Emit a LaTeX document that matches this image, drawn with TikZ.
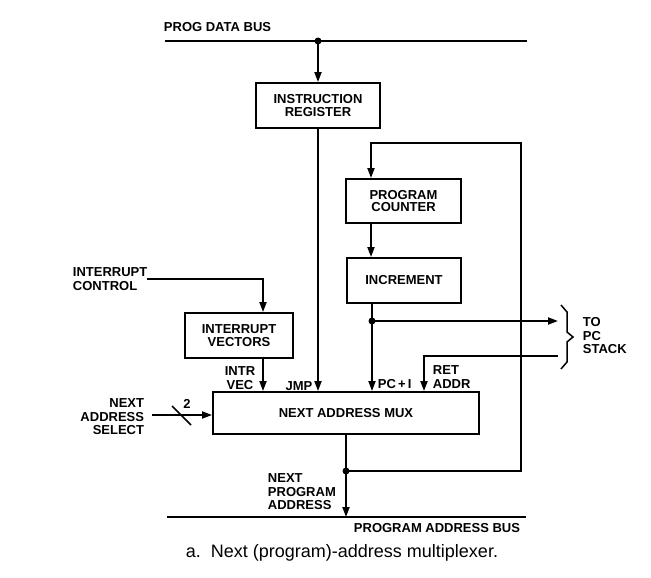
\documentclass[tikz,border=0pt]{standalone}
\usepackage{fontspec}
\setmainfont{Liberation Sans}
\usetikzlibrary{arrows.meta}

\begin{document}
\begin{tikzpicture}[x=1pt,y=-1pt,
  line width=1.9pt,
  arr/.style={-{Triangle[length=10pt,width=7pt]}},
  box/.style={draw, line width=1.9pt, inner sep=0pt, align=center,
    font=\bfseries\fontsize{13}{12.5}\selectfont},
  lbl/.style={inner sep=0pt, font=\bfseries\fontsize{13}{13.5}\selectfont},
  dot/.style={circle, fill, inner sep=0pt, minimum size=7pt}]

\useasboundingbox (0,0) rectangle (651,578);

% functional blocks
\node[box, minimum width=124pt, minimum height=45pt] (ir)  at (318,105.5) {INSTRUCTION\\REGISTER};
\node[box, minimum width=115pt, minimum height=44pt] (pc)  at (403.5,201) {PROGRAM\\COUNTER};
\node[box, minimum width=114pt, minimum height=45pt] (inc) at (404,280.5) {INCREMENT};
\node[box, minimum width=108pt, minimum height=45pt] (iv)  at (239,335.5) {INTERRUPT\\VECTORS};
\node[box, minimum width=266pt, minimum height=42pt] (mux) at (346,413)   {NEXT ADDRESS MUX};

% routing points
\coordinate (dbL) at (165,41);
\coordinate (dbR) at (527,41);
\coordinate (dbJ) at (318,41);
\coordinate (loopTL) at (371,143);
\coordinate (loopTR) at (521,143);
\coordinate (incJ) at (372,321);
\coordinate (stackOut) at (558,321);
\coordinate (stackIn) at (558,356);
\coordinate (retC) at (424,356);
\coordinate (icL) at (147,279);
\coordinate (icC) at (263,279);
\coordinate (nasL) at (152,415);
\coordinate (outJ) at (346,471);
\coordinate (outR) at (521,471);
\coordinate (abL) at (167,517);
\coordinate (abR) at (526,517);
\coordinate (abJ) at (346,517);
\coordinate (slashA) at (172,406);
\coordinate (slashB) at (191,425);

% program data bus
\draw (dbL) -- (dbR);
\node[lbl, anchor=west] (dbus) at (163,27) {PROG DATA BUS};
\draw[arr] (dbJ) -- (ir.north);

% jump address
\draw[arr] (ir.south) -- (ir.south |- mux.north);
\node[lbl] (jmp) at (299,386) {JMP};

% program counter loop
\draw[arr] (outJ) -- (outR) -- (loopTR) -- (loopTL) -- (loopTL |- pc.north);
\draw[arr] (loopTL |- pc.south) -- (loopTL |- inc.north);
\draw (incJ |- inc.south) -- (incJ);
\draw[arr] (incJ) -- (incJ |- mux.north);
\node[lbl, anchor=west] (pcinc) at (377,384) {PC\,+\,I};

% stack interface
\draw[arr] (incJ) -- (stackOut);
\draw[arr] (stackIn) -- (retC) -- (retC |- mux.north);
\node[lbl, anchor=west, align=left] (ret) at (432,377) {RET\\ADDR};
\draw[line width=1.5pt, line join=miter]
  (561,305) -- (567,312) -- (567,332) -- (573,337) -- (567,342)
  -- (567,362) -- (561,369);
\node[lbl, anchor=west, align=left] (stack) at (582,336) {TO\\PC\\STACK};

% interrupts
\node[lbl, anchor=west, align=left] (ictl) at (72,279) {INTERRUPT\\CONTROL};
\draw[arr] (icL) -- (icC) -- (icC |- iv.north);
\draw[arr] (icC |- iv.south) -- (icC |- mux.north);
\node[lbl, align=center] (ivec) at (240,378) {INTR\\VEC};

% select input
\node[lbl, anchor=east, align=right] (nas) at (145,417) {NEXT\\ADDRESS\\SELECT};
\draw[arr] (nasL) -- (nasL -| mux.west);
\draw[line width=1.6pt] (slashA) -- (slashB);
\node[lbl] (two) at (187,404) {2};

% output to program address bus
\draw (mux.south) -- (outJ);
\draw[arr] (outJ) -- (abJ);
\draw (abL) -- (abR);
\node[lbl, anchor=west, align=left] (npa) at (267,492) {NEXT\\PROGRAM\\ADDRESS};
\node[lbl, anchor=west] (abus) at (353,528) {PROGRAM ADDRESS BUS};

% junction dots
\node[dot] (j1) at (dbJ) {};
\node[dot] (j2) at (incJ) {};
\node[dot] (j3) at (outJ) {};

% caption
\node[inner sep=0pt, font=\fontsize{18}{20}\selectfont] (cap) at (342,553)
  {a.\ \ Next (program)-address multiplexer.};
\end{tikzpicture}
\end{document}
